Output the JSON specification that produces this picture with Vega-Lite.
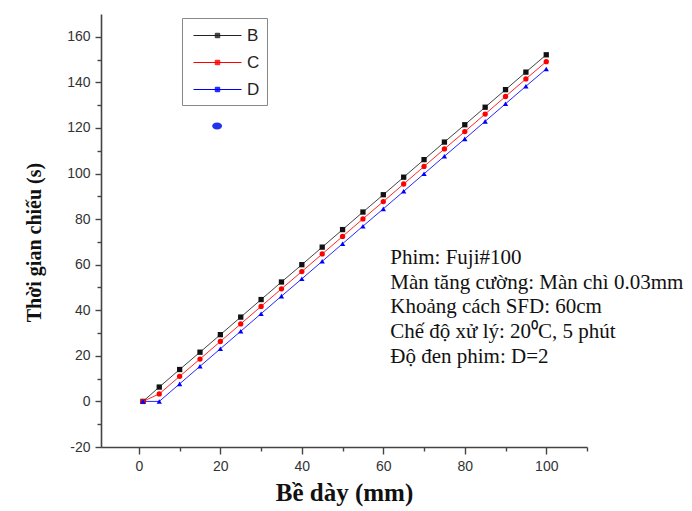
{
  "$schema": "https://vega.github.io/schema/vega-lite/v6.json",
  "width": 486,
  "height": 433,
  "autosize": "none",
  "padding": {"left": 101, "top": 14, "right": 105, "bottom": 64},
  "background": "white",
  "config": {
    "view": {"stroke": null},
    "axis": {
      "grid": false,
      "domainColor": "#444",
      "domainWidth": 1.6,
      "tickColor": "#444",
      "tickWidth": 1.4,
      "labelColor": "#333",
      "labelFont": "Liberation Sans",
      "labelFontSize": 14,
      "titleFont": "Liberation Serif",
      "titleFontWeight": "bold",
      "titleColor": "#111"
    }
  },
  "datasets": {
    "series": [
      {"d": 1, "t": 0, "s": "B"}, {"d": 5, "t": 6.3, "s": "B"}, {"d": 10, "t": 14.0, "s": "B"}, {"d": 15, "t": 21.6, "s": "B"},
      {"d": 20, "t": 29.3, "s": "B"}, {"d": 25, "t": 37.0, "s": "B"}, {"d": 30, "t": 44.7, "s": "B"}, {"d": 35, "t": 52.4, "s": "B"},
      {"d": 40, "t": 60.0, "s": "B"}, {"d": 45, "t": 67.7, "s": "B"}, {"d": 50, "t": 75.4, "s": "B"}, {"d": 55, "t": 83.1, "s": "B"},
      {"d": 60, "t": 90.7, "s": "B"}, {"d": 65, "t": 98.4, "s": "B"}, {"d": 70, "t": 106.1, "s": "B"}, {"d": 75, "t": 113.8, "s": "B"},
      {"d": 80, "t": 121.4, "s": "B"}, {"d": 85, "t": 129.1, "s": "B"}, {"d": 90, "t": 136.8, "s": "B"}, {"d": 95, "t": 144.5, "s": "B"},
      {"d": 100, "t": 152.1, "s": "B"},
      {"d": 1, "t": 0, "s": "C"}, {"d": 5, "t": 3.3, "s": "C"}, {"d": 10, "t": 11.0, "s": "C"}, {"d": 15, "t": 18.6, "s": "C"},
      {"d": 20, "t": 26.3, "s": "C"}, {"d": 25, "t": 34.0, "s": "C"}, {"d": 30, "t": 41.7, "s": "C"}, {"d": 35, "t": 49.4, "s": "C"},
      {"d": 40, "t": 57.0, "s": "C"}, {"d": 45, "t": 64.7, "s": "C"}, {"d": 50, "t": 72.4, "s": "C"}, {"d": 55, "t": 80.1, "s": "C"},
      {"d": 60, "t": 87.7, "s": "C"}, {"d": 65, "t": 95.4, "s": "C"}, {"d": 70, "t": 103.1, "s": "C"}, {"d": 75, "t": 110.8, "s": "C"},
      {"d": 80, "t": 118.4, "s": "C"}, {"d": 85, "t": 126.1, "s": "C"}, {"d": 90, "t": 133.8, "s": "C"}, {"d": 95, "t": 141.5, "s": "C"},
      {"d": 100, "t": 149.1, "s": "C"},
      {"d": 1, "t": 0, "s": "D"}, {"d": 5, "t": 0, "s": "D"}, {"d": 10, "t": 7.7, "s": "D"}, {"d": 15, "t": 15.4, "s": "D"},
      {"d": 20, "t": 23.1, "s": "D"}, {"d": 25, "t": 30.8, "s": "D"}, {"d": 30, "t": 38.5, "s": "D"}, {"d": 35, "t": 46.2, "s": "D"},
      {"d": 40, "t": 53.8, "s": "D"}, {"d": 45, "t": 61.5, "s": "D"}, {"d": 50, "t": 69.2, "s": "D"}, {"d": 55, "t": 76.9, "s": "D"},
      {"d": 60, "t": 84.5, "s": "D"}, {"d": 65, "t": 92.2, "s": "D"}, {"d": 70, "t": 99.9, "s": "D"}, {"d": 75, "t": 107.6, "s": "D"},
      {"d": 80, "t": 115.2, "s": "D"}, {"d": 85, "t": 122.9, "s": "D"}, {"d": 90, "t": 130.6, "s": "D"}, {"d": 95, "t": 138.3, "s": "D"},
      {"d": 100, "t": 145.9, "s": "D"}
    ],
    "stray": [{"d": 19.2, "t": 120.9}],
    "note": [{"d": 61.7, "t": 62.9, "txt": ["Phim: Fuji#100", "Màn tăng cường: Màn chì 0.03mm", "Khoảng cách SFD: 60cm", "Chế độ xử lý: 20⁰C, 5 phút", "Độ đen phim: D=2"]}]
  },
  "encoding": {
    "x": {
      "field": "d", "type": "quantitative",
      "scale": {"domain": [-9.3, 110], "nice": false, "zero": false},
      "axis": {
        "title": "Bề dày (mm)",
        "titleFontSize": 25,
        "titlePadding": 7,
        "values": [0, 10, 20, 30, 40, 50, 60, 70, 80, 90, 100, 110],
        "labelExpr": "datum.value % 20 === 0 ? datum.label : ''",
        "tickSize": {"condition": {"test": "datum.value % 20 === 0", "value": 7}, "value": 4},
        "labelPadding": 5
      }
    },
    "y": {
      "field": "t", "type": "quantitative",
      "scale": {"domain": [-20, 170], "nice": false, "zero": false},
      "axis": {
        "title": "Thời gian chiếu (s)",
        "titleFontSize": 20,
        "titlePadding": 22,
        "titleY": 228,
        "values": [-20, -10, 0, 10, 20, 30, 40, 50, 60, 70, 80, 90, 100, 110, 120, 130, 140, 150, 160],
        "labelExpr": "datum.value % 20 === 0 ? (datum.value < 0 ? '-' + abs(datum.value) : datum.label) : ''",
        "tickSize": {"condition": {"test": "datum.value % 20 === 0", "value": 6}, "value": 4},
        "labelPadding": 5
      }
    }
  },
  "layer": [
    {
      "data": {"name": "series"},
      "mark": {"type": "line", "strokeWidth": 1, "opacity": 0.85},
      "encoding": {
        "color": {
          "field": "s", "type": "nominal",
          "scale": {"domain": ["B", "C", "D"], "range": ["#222222", "#ff0000", "#0000ff"]},
          "legend": {
            "title": null,
            "orient": "none",
            "legendX": 81,
            "legendY": 4,
            "padding": 7,
            "strokeColor": "#888",
            "fillColor": "white",
            "symbolType": "M-2.4,0H2.4M-0.22,-0.22H0.22V0.22H-0.22ZM-0.12,-0.12H0.12V0.12H-0.12ZM-0.04,-0.04H0.04V0.04H-0.04Z",
            "symbolSize": 400,
            "symbolOffset": 18,
            "symbolStrokeWidth": 1,
            "symbolOpacity": 1,
            "rowPadding": 8,
            "labelOffset": 19,
            "labelFont": "Liberation Sans",
            "labelFontSize": 17,
            "labelColor": "#222",
            "labelExpr": "datum.label + '    '"
          }
        }
      }
    },
    {
      "data": {"name": "series"},
      "transform": [{"filter": "datum.s === 'B'"}],
      "mark": {"type": "point", "filled": true, "size": 28, "opacity": 1, "color": "#111111", "shape": "square"}
    },
    {
      "data": {"name": "series"},
      "transform": [{"filter": "datum.s === 'C'"}],
      "mark": {"type": "point", "filled": true, "size": 28, "opacity": 1, "color": "#ff0000", "shape": "circle"}
    },
    {
      "data": {"name": "series"},
      "transform": [{"filter": "datum.s === 'D'"}],
      "mark": {"type": "point", "filled": true, "size": 28, "opacity": 1, "color": "#0000ff", "shape": "triangle-up"}
    },
    {
      "data": {"name": "stray"},
      "mark": {"type": "point", "filled": true, "size": 100, "opacity": 1, "color": "#2233ee", "shape": "M-1,0A1,0.7 0 1,0 1,0A1,0.7 0 1,0 -1,0Z"}
    },
    {
      "data": {"name": "note"},
      "mark": {"type": "text", "align": "left", "baseline": "middle", "font": "Liberation Serif", "fontSize": 21, "lineHeight": 24.7, "color": "#111"},
      "encoding": {"text": {"field": "txt"}}
    }
  ]
}
